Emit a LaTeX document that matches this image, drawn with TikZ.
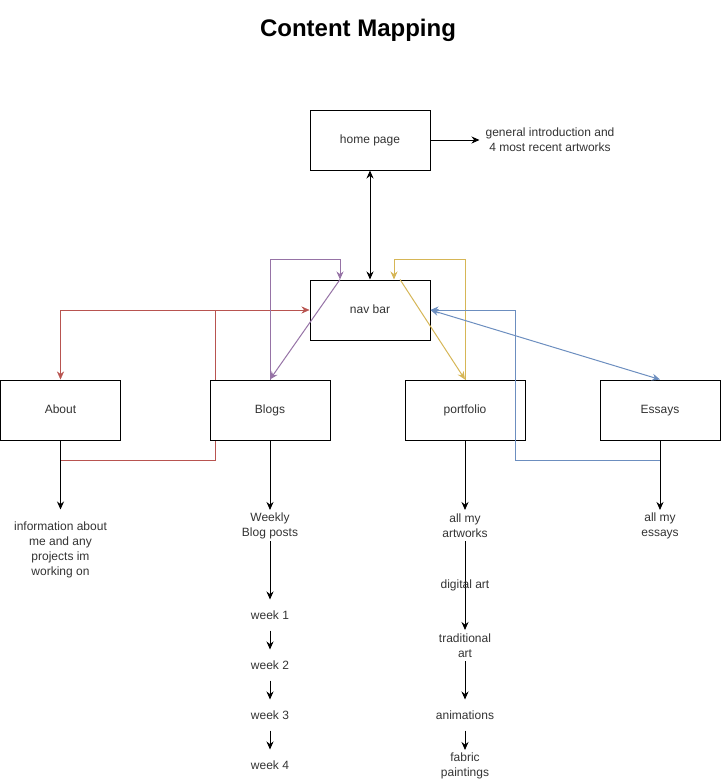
\documentclass[tikz,border=0pt]{standalone}
\usepackage{fontspec}
\setmainfont{Liberation Sans}
\usetikzlibrary{arrows.meta,backgrounds}
\definecolor{aboutred}{HTML}{B85450}
\definecolor{blogpurple}{HTML}{9673A6}
\definecolor{artyellow}{HTML}{D6B656}
\definecolor{essayblue}{HTML}{6C8EBF}
\newcommand{\mapfont}[0]{\fontsize{12}{15}\selectfont}

\begin{document}
\begin{tikzpicture}[x=1pt, y=-1pt, line width=1pt, >={Stealth[length=8pt,width=7pt]}]
  \tikzset{page/.style={draw, fill=white, minimum width=120pt, minimum height=60pt,
      text height=9pt, text depth=2.5pt, font=\mapfont, text=black!80},
    info/.style={align=center, inner sep=0pt, minimum height=30pt,
      font=\mapfont, text=black!80}}
  \useasboundingbox (0,0) rectangle (721,780);
  \node[font=\fontsize{24}{28}\selectfont\bfseries] (title) at (358,30) {Content Mapping};
  % pages
  \node[page] (home) at (370,140) {home page};
  \node[page] (nav) at (370,310) {nav bar};
  \node[page] (about) at (60.5,410) {About};
  \node[page] (blogs) at (270,410) {Blogs};
  \node[page] (portfolio) at (465,410) {portfolio};
  \node[page] (essays) at (660,410) {Essays};
  % contents
  \node[info, minimum width=140pt] (intro) at (550,140) {general introduction and\\4 most recent artworks};
  \node[info, minimum height=80pt] (aboutinfo) at (60.5,550) {information about\\me and any\\projects im\\working on};
  \node[info] (weekly) at (270,525.5) {Weekly\\Blog posts};
  \node[info] (week1) at (270,615) {week 1};
  \node[info] (week2) at (270,665) {week 2};
  \node[info] (week3) at (270,715) {week 3};
  \node[info] (week4) at (270,765) {week 4};
  \node[info] (artworks) at (465,525.5) {all my\\artworks};
  \node[info] (traditional) at (465,645.5) {traditional\\art};
  \node[info] (animations) at (465,715) {animations};
  \node[info] (fabric) at (465,765.5) {fabric\\paintings};
  \node[info] (essaylist) at (660,525.5) {all my\\essays};
  \coordinate (redstart) at (60.5,460);
  \coordinate (redjoin) at (215,310);
  \coordinate (bluestart) at (660,460);
  \coordinate (bluejoin) at (515,310);
  % black arrows
  \draw[->] (home) -- (intro);
  \draw[<->] (home) -- (nav);
  \draw[->] (about) -- (aboutinfo);
  \draw[->] (blogs) -- (weekly);
  \draw[->] (weekly) -- (week1);
  \draw[->] (week1) -- (week2);
  \draw[->] (week2) -- (week3);
  \draw[->] (week3) -- (week4);
  \draw[->] (portfolio) -- (artworks);
  \draw[->] (artworks) -- node[info, minimum height=0pt] (digital) {digital art} (traditional);
  \draw[->] (traditional) -- (animations);
  \draw[->] (animations) -- (fabric);
  \draw[->] (essays) -- (essaylist);
  % nav links
  \begin{scope}[on background layer]
    \draw[aboutred, ->] (redstart) -| (redjoin) -- (nav.west);
    \draw[aboutred, ->] (redjoin) -| (about.north);
  \end{scope}
  \draw[blogpurple, ->] (blogs.north) -- ++(0,-120) -| ([xshift=-30pt]nav.north);
  \draw[blogpurple, ->] ([xshift=-30pt]nav.north) -- (blogs.north);
  \draw[artyellow, ->] (portfolio.north) -- ++(0,-120) -| ([xshift=24pt]nav.north);
  \draw[artyellow, ->] ([xshift=30pt]nav.north) -- (portfolio.north);
  \draw[essayblue, ->] (bluestart) -| (bluejoin) -- (nav.east);
  \draw[essayblue, <->] (nav.east) -- (essays.north);
\end{tikzpicture}
\end{document}
